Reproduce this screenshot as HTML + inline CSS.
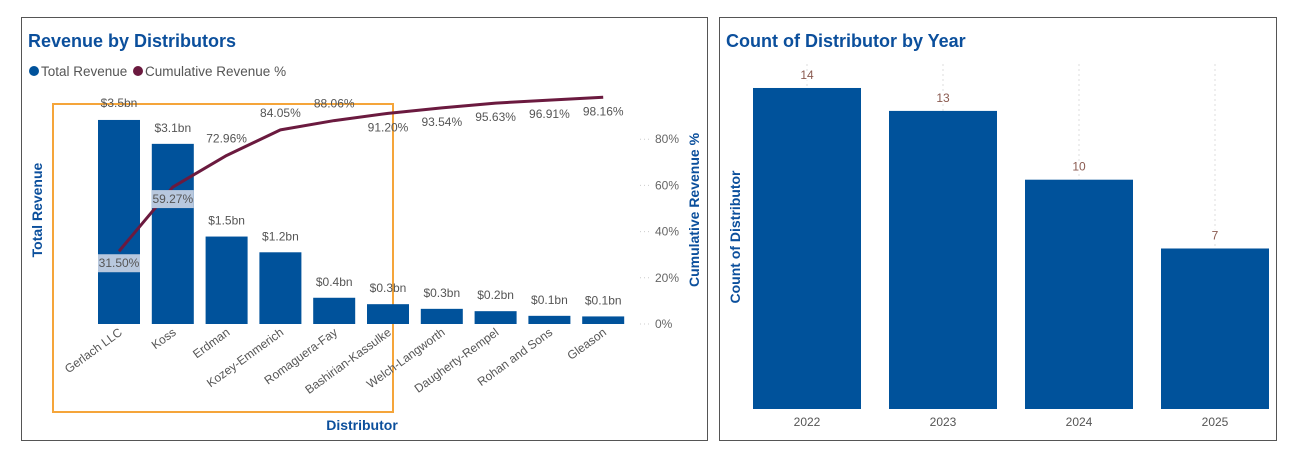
<!DOCTYPE html>
<html><head><meta charset="utf-8"><style>
html,body{margin:0;padding:0;background:#fff;width:1291px;height:468px;overflow:hidden;font-family:"Liberation Sans",sans-serif}
svg{position:absolute;left:0;top:0}
</style></head><body>
<svg width="1291" height="468">
<rect x="21.5" y="17.5" width="686" height="423" fill="#fff" stroke="#555"/>
<rect x="719.5" y="17.5" width="557" height="423" fill="#fff" stroke="#555"/>
<text x="28" y="47" font-size="18" font-weight="bold" fill="#0b4f9c">Revenue by Distributors</text>
<text x="726" y="47" font-size="18" font-weight="bold" fill="#0b4f9c">Count of Distributor by Year</text>
<g>
<circle cx="34" cy="71" r="5" fill="#00529b"/>
<text x="41" y="76" font-size="13.5" fill="#555">Total Revenue</text>
<circle cx="138" cy="71" r="5" fill="#6b1a3f"/>
<text x="145" y="76" font-size="13.5" fill="#555">Cumulative Revenue %</text>
</g>
<rect x="53" y="104" width="340" height="308" fill="none" stroke="#f5a53a" stroke-width="2"/>
<g id="left"></g>
<g id="right"></g>
<text transform="translate(42,210) rotate(-90)" text-anchor="middle" font-size="14" font-weight="bold" fill="#0b4f9c">Total Revenue</text>
<text transform="translate(699,210) rotate(-90)" text-anchor="middle" font-size="14" font-weight="bold" fill="#0b4f9c">Cumulative Revenue %</text>
<text x="362" y="430" text-anchor="middle" font-size="14" font-weight="bold" fill="#0b4f9c">Distributor</text>
<text transform="translate(740,237) rotate(-90)" text-anchor="middle" font-size="14" font-weight="bold" fill="#0b4f9c">Count of Distributor</text>
</svg>
<script>
const distributors=["Gerlach LLC","Koss","Erdman","Kozey-Emmerich","Romaguera-Fay","Bashirian-Kassulke","Welch-Langworth","Daugherty-Rempel","Rohan and Sons","Gleason"];
const revenue=[3.5,3.09,1.5,1.23,0.45,0.34,0.26,0.22,0.14,0.13];
const revenueLabels=["$3.5bn","$3.1bn","$1.5bn","$1.2bn","$0.4bn","$0.3bn","$0.3bn","$0.2bn","$0.1bn","$0.1bn"];
const cumPct=[31.50,59.27,72.96,84.05,88.06,91.20,93.54,95.63,96.91,98.16];
const pctTicks=[0,20,40,60,80];
const years=["2022","2023","2024","2025"];
const counts=[14,13,10,7];
const NS="http://www.w3.org/2000/svg";
function mk(p,t,a,txt){const e=document.createElementNS(NS,t);for(const k in a)e.setAttribute(k,a[k]);if(txt!==undefined)e.textContent=txt;p.appendChild(e);return e;}
const L=document.getElementById('left'),R=document.getElementById('right');
const base=324;
const xL=i=>119+i*53.8;
const yRev=v=>base-v*58.3;
const yPct=p=>base-p*2.31;
pctTicks.forEach(t=>{
 const g=mk(L,'line',{x1:640,x2:650,y1:yPct(t),y2:yPct(t),stroke:'#ccc','stroke-dasharray':'1 3'});
 
 
 const e=mk(L,'text',{x:655,y:yPct(t)+4,'font-size':12,fill:'#666'},t+'%');
 
 
});
revenue.forEach((v,i)=>{
 const b=mk(L,'rect',{x:xL(i)-21,y:yRev(v),width:42,height:base-yRev(v),fill:'#00529b'});
 
 
 const t=mk(L,'text',{x:xL(i),y:yRev(v)-12,'text-anchor':'middle','font-size':12,fill:'#555'},revenueLabels[i]);
 if(i===0){t.setAttribute('y',yRev(v)-13);}
 
 
 const x=mk(L,'text',{transform:`translate(${xL(i)+4},334) rotate(-36)`,'text-anchor':'end','font-size':12,fill:'#555'},distributors[i]);
 
 
});
const pts=cumPct.map((p,i)=>xL(i)+','+yPct(p)).join(' ');
const pl=mk(L,'polyline',{points:pts,fill:'none',stroke:'#6b1a3f','stroke-width':3,'stroke-linejoin':'round'});


cumPct.forEach((p,i)=>{
 let y=yPct(p)-13, inside=i<2;
 if(inside)y=yPct(p)+16;
 if(i>=5)y=yPct(p)+18;
 if(inside){const bg=mk(L,'rect',{x:xL(i)-21,y:y-13,width:42,height:18,fill:'#b8c8de'});
  
  }
 const t=mk(L,'text',{x:xL(i),y:y,'text-anchor':'middle','font-size':12,fill:'#555'},p.toFixed(2)+'%');
 
 
});
const base2=409,xR=i=>807+i*136,yC=v=>base2-v*22.93;
counts.forEach((v,i)=>{
 const g=mk(R,'line',{x1:xR(i),x2:xR(i),y1:64,y2:yC(v),stroke:'#ddd','stroke-dasharray':'2 3'});
 
 
 const b=mk(R,'rect',{x:xR(i)-54,y:yC(v),width:108,height:base2-yC(v),fill:'#00529b'});
 
 
 const t=mk(R,'text',{x:xR(i),y:yC(v)-9,'text-anchor':'middle','font-size':12,fill:'#8a5a50',stroke:'#fff','stroke-width':3,'paint-order':'stroke'},v);
 
 
 const y=mk(R,'text',{x:xR(i),y:426,'text-anchor':'middle','font-size':12,fill:'#555'},years[i]);
 
 
});
</script>
</body></html>
